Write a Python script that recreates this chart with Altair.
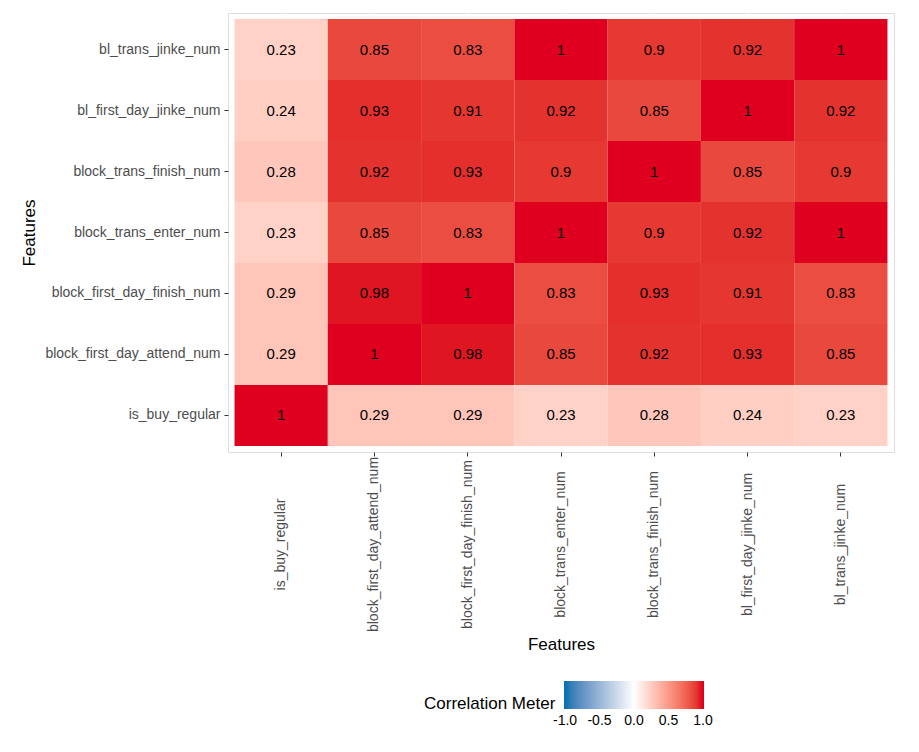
import altair as alt
import pandas as pd

features = [
    "is_buy_regular",
    "block_first_day_attend_num",
    "block_first_day_finish_num",
    "block_trans_enter_num",
    "block_trans_finish_num",
    "bl_first_day_jinke_num",
    "bl_trans_jinke_num",
]

# rows listed in the same order as features (bottom to top on the y axis)
row_is_buy_regular = [1, 0.29, 0.29, 0.23, 0.28, 0.24, 0.23]
row_block_first_day_attend_num = [0.29, 1, 0.98, 0.85, 0.92, 0.93, 0.85]
row_block_first_day_finish_num = [0.29, 0.98, 1, 0.83, 0.93, 0.91, 0.83]
row_block_trans_enter_num = [0.23, 0.85, 0.83, 1, 0.9, 0.92, 1]
row_block_trans_finish_num = [0.28, 0.92, 0.93, 0.9, 1, 0.85, 0.9]
row_bl_first_day_jinke_num = [0.24, 0.93, 0.91, 0.92, 0.85, 1, 0.92]
row_bl_trans_jinke_num = [0.23, 0.85, 0.83, 1, 0.9, 0.92, 1]

rows = [
    row_is_buy_regular,
    row_block_first_day_attend_num,
    row_block_first_day_finish_num,
    row_block_trans_enter_num,
    row_block_trans_finish_num,
    row_bl_first_day_jinke_num,
    row_bl_trans_jinke_num,
]

legend_values = [-1, -0.5, 0, 0.5, 1]
LOW, MID, HIGH = "#0571B0", "#FFFFFF", "#DE001E"

records = []
for yi, yname in enumerate(features):
    for xi, xname in enumerate(features):
        records.append({"x": xname, "y": yname, "value": rows[yi][xi]})
df = pd.DataFrame(records)

FONT = "Liberation Sans"

x_enc = alt.X(
    "x:N",
    sort=features,
    title="Features",
    scale=alt.Scale(paddingInner=0, paddingOuter=0.07),
    axis=alt.Axis(
        labelAngle=270,
        labelAlign="center",
        labelBaseline="middle",
        labelFontSize=14,
        labelColor="#4D4D4D",
        labelFont=FONT,
        labelPadding=88,
        tickColor="#333333",
        tickSize=4,
        domain=False,
        grid=True,
        gridColor="white",
        gridWidth=1.2,
        zindex=0,
        titleFont=FONT,
        titleFontSize=17,
        titleFontWeight="normal",
        titleColor="black",
        titlePadding=5,
    ),
)
y_enc = alt.Y(
    "y:N",
    sort=list(reversed(features)),
    title="Features",
    scale=alt.Scale(paddingInner=0, paddingOuter=0.1),
    axis=alt.Axis(
        labelFontSize=14,
        labelColor="#4D4D4D",
        labelFont=FONT,
        labelPadding=4,
        tickColor="#333333",
        tickSize=4,
        domain=False,
        grid=True,
        gridColor="white",
        gridWidth=1.2,
        zindex=0,
        titleFont=FONT,
        titleFontSize=17,
        titleFontWeight="normal",
        titleColor="black",
        titlePadding=6,
    ),
)

base = alt.Chart(df)

tiles = base.mark_rect().encode(
    x=x_enc,
    y=y_enc,
    color=alt.Color(
        "value:Q",
        scale=alt.Scale(
            domain=[-1.015, -1, 0, 1, 1.015],
            range=[LOW, LOW, MID, HIGH, HIGH],
            interpolate="lab",
        ),
        legend=alt.Legend(
            title="Correlation Meter",
            orient="none",
            legendX=196,
            legendY=668,
            direction="horizontal",
            titleOrient="left",
            titleAnchor="end",
            titleFont=FONT,
            titleFontSize=17,
            titleFontWeight="normal",
            titleColor="black",
            titleBaseline="alphabetic",
            titlePadding=8,
            gradientLength=140,
            gradientThickness=28,
            gradientStrokeWidth=0,
            labelFont=FONT,
            labelFontSize=14,
            labelColor="black",
            labelOffset=5,
            labelExpr="(datum.value < 0 ? '-' : '') + format(abs(datum.value), '.1f')",
            values=legend_values,
            labelOverlap=False,
        ),
    ),
)

labels = base.mark_text(font=FONT, fontSize=15, color="black").encode(
    x=alt.X("x:N", sort=features),
    y=alt.Y("y:N", sort=list(reversed(features))),
    text=alt.Text("value:Q", format=".2~f"),
)

chart = (
    alt.layer(tiles, labels)
    .properties(
        width=666,
        height=439,
        padding={"left": 12, "top": 5, "right": 5, "bottom": 5},
    )
    .configure_view(fill="#EBEBEB", strokeWidth=0)
    .configure(background="white")
)

chart.save("out.html", embed_options={"renderer": "svg", "actions": False})
